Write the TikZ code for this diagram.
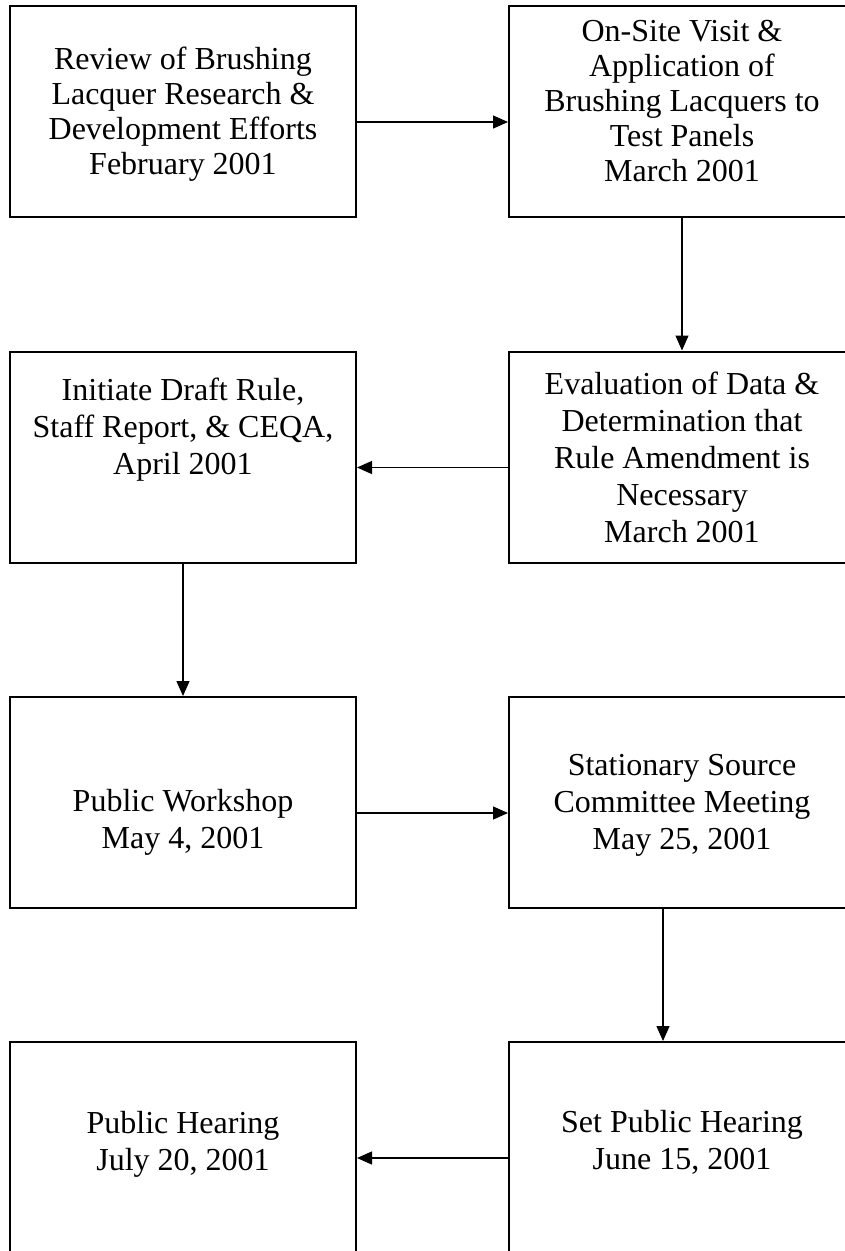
\documentclass[tikz,border=0pt]{standalone}
\usepackage{fontspec}
\setmainfont{Liberation Serif}
\usetikzlibrary{arrows.meta}
\tikzset{
  stepbox/.style={draw, line width=2pt, minimum width=346pt, minimum height=211pt, inner sep=0pt},
  steptext/.style={align=center, font=\fontsize{32}{37}\selectfont, inner sep=0pt},
  tighttext/.style={steptext, font=\fontsize{32}{35}\selectfont},
  link/.style={line width=1.3pt, -{Triangle[length=15pt,width=13pt]}}
}
\begin{document}
\begin{tikzpicture}[x=1pt, y=-1pt]
    \useasboundingbox (0,0) rectangle (845,1251) ;
    \clip (0,0) rectangle (845,1251) ;

    \node[stepbox] (review) at (183,111.5) {} ;
    \node[stepbox] (visit) at (682,111.5) {} ;
    \node[stepbox] (draft) at (183,457) {} ;
    \node[stepbox] (evaluate) at (682,457) {} ;
    \node[stepbox] (workshop) at (183,802.5) {} ;
    \node[stepbox] (committee) at (682,802.5) {} ;
    \node[stepbox] (hearing) at (183,1147.5) {} ;
    \node[stepbox] (sethearing) at (682,1147.5) {} ;

    \node[tighttext] (reviewtxt) at ([yshift=-3pt]review.center) {Review of Brushing\\Lacquer Research \&\\Development Efforts\\February 2001} ;
    \node[tighttext] (visittxt) at ([yshift=10.5pt]visit.center) {On-Site Visit \&\\Application of\\Brushing Lacquers to\\Test Panels\\March 2001} ;
    \node[steptext] (drafttxt) at ([yshift=27pt]draft.center) {Initiate Draft Rule,\\Staff Report, \& CEQA,\\April 2001} ;
    \node[steptext] (evaluatetxt) at (evaluate.center) {Evaluation of Data \&\\Determination that\\Rule Amendment is\\Necessary\\March 2001} ;
    \node[steptext] (workshoptxt) at ([yshift=-19.5pt]workshop.center) {Public Workshop\\May 4, 2001} ;
    \node[steptext] (committeetxt) at ([yshift=-3pt]committee.center) {Stationary Source\\Committee Meeting\\May 25, 2001} ;
    \node[steptext] (hearingtxt) at ([yshift=3.5pt]hearing.center) {Public Hearing\\July 20, 2001} ;
    \node[steptext] (sethearingtxt) at ([yshift=5pt]sethearing.center) {Set Public Hearing\\June 15, 2001} ;

    \draw[link] ([yshift=-10.5pt]review.east) -- ([yshift=-10.5pt]visit.west) ;
    \draw[link] (visit.south) -- (evaluate.north) ;
    \draw[link] ([yshift=-10.5pt]evaluate.west) -- ([yshift=-10.5pt]draft.east) ;
    \draw[link] (draft.south) -- (workshop.north) ;
    \draw[link] ([yshift=-10.5pt]workshop.east) -- ([yshift=-10.5pt]committee.west) ;
    \draw[link] ([xshift=-19pt]committee.south) -- ([xshift=-19pt]sethearing.north) ;
    \draw[link] ([yshift=-10.5pt]sethearing.west) -- ([yshift=-10.5pt]hearing.east) ;
\end{tikzpicture}
\end{document}
